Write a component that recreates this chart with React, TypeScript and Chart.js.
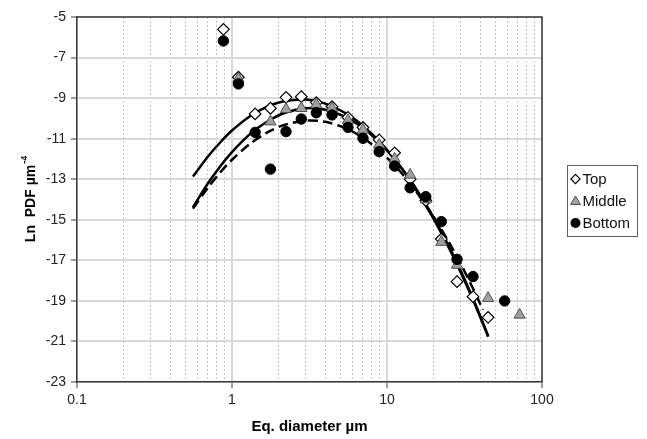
import React, { useEffect, useRef } from "react";
import { Chart, registerables } from "chart.js";

Chart.register(...registerables);

const topDiameter = [0.88, 1.1, 1.41, 1.77, 2.23, 2.8, 3.5, 4.42, 5.6, 7.0, 8.9, 11.2, 14.1, 17.8, 22.4, 28.3, 35.9, 44.9];
const topLnPdf = [-5.61, -7.97, -9.78, -9.5, -8.96, -8.93, -9.22, -9.42, -9.95, -10.45, -11.06, -11.7, -13.0, -14.05, -15.95, -18.05, -18.79, -19.81];

const middleDiameter = [1.1, 1.77, 2.23, 2.8, 3.5, 4.42, 5.6, 7.0, 8.9, 11.2, 14.1, 17.8, 22.4, 28.3, 44.9, 71.7];
const middleLnPdf = [-8.05, -10.16, -9.55, -9.5, -9.32, -9.5, -10.1, -10.57, -11.3, -12.0, -12.79, -14.0, -16.1, -17.23, -18.87, -19.69];

const bottomDiameter = [0.88, 1.1, 1.41, 1.77, 2.23, 2.8, 3.5, 4.42, 5.6, 7.0, 8.9, 11.2, 14.1, 17.8, 22.4, 28.3, 35.9, 57.4];
const bottomLnPdf = [-6.18, -8.3, -10.69, -12.5, -10.65, -10.03, -9.72, -9.83, -10.44, -10.98, -11.64, -12.35, -13.42, -13.86, -15.09, -16.95, -17.8, -19.0];

// ---- fitted curves ----
const fitDiameter = [0.56, 0.7, 0.85, 1, 1.3, 1.7, 2.2, 3, 4, 5.5, 7, 9, 12, 15, 20, 25, 30, 36, 45];
const topFit = [-12.87, -11.88, -11.14, -10.6, -9.91, -9.41, -9.14, -9.07, -9.27, -9.78, -10.37, -11.16, -12.31, -13.37, -14.96, -16.37, -17.62, -18.97, -20.77];
const middleFit = [-14.38, -13.2, -12.31, -11.66, -10.79, -10.14, -9.72, -9.5, -9.57, -9.96, -10.48, -11.21, -12.3, -13.33, -14.89, -16.29, -17.54, -18.91, -20.73];
const bottomFitDiameter = [0.56, 0.7, 0.85, 1, 1.3, 1.7, 2.2, 3, 4, 5.5, 7, 9, 12, 15, 20, 25, 30, 36, 41.6];
const bottomFit = [-14.45, -13.41, -12.62, -12.04, -11.27, -10.68, -10.31, -10.11, -10.17, -10.51, -10.96, -11.61, -12.57, -13.48, -14.86, -16.09, -17.2, -18.41, -19.44];

// ---- axes ----
const xMajorTicks = [0.1, 1, 10, 100];
const xTickLabels = ["0.1", "1", "10", "100"];
const xMinorMultipliers = [2, 3, 4, 5, 6, 7, 8, 9];
const yMin = -23;
const yMax = -5;
const yStep = 2;

const seriesNames = ["Top", "Middle", "Bottom"];
const xTitle = "Eq. diameter µm";
const yTitle = "Ln  PDF µm";
const yTitleSup = "-4";

const FONT = '"Liberation Sans", Arial, sans-serif';

const zip = (xs: number[], ys: number[]) => xs.map((x, i) => ({ x, y: ys[i] }));

const isMajor = (v: number) => Math.abs(Math.log10(v) - Math.round(Math.log10(v))) < 1e-6;

export default function App() {
  const ref = useRef<HTMLCanvasElement>(null);

  useEffect(() => {
    const canvas = ref.current;
    if (!canvas) return;

    const decorPlugin = {
      id: "decor",
      afterDraw(chart: any) {
        const { ctx, chartArea: a } = chart;
        ctx.save();
        // top & right frame
        ctx.strokeStyle = "#3a3a3a";
        ctx.lineWidth = 1.5;
        ctx.beginPath();
        ctx.moveTo(a.left, a.top);
        ctx.lineTo(a.right, a.top);
        ctx.lineTo(a.right, a.bottom);
        ctx.stroke();
        ctx.restore();

        // y title with superscript
        ctx.save();
        ctx.translate(31, (a.top + a.bottom) / 2);
        ctx.rotate(-Math.PI / 2);
        ctx.fillStyle = "#000";
        ctx.textBaseline = "middle";
        ctx.font = `bold 14px ${FONT}`;
        const w1 = ctx.measureText(yTitle).width;
        ctx.font = `bold 9px ${FONT}`;
        const w2 = ctx.measureText(yTitleSup).width;
        const start = -(w1 + w2) / 2;
        ctx.font = `bold 14px ${FONT}`;
        ctx.fillText(yTitle, start, 0);
        ctx.font = `bold 9px ${FONT}`;
        ctx.fillText(yTitleSup, start + w1 + 1, -6);
        ctx.restore();

        // legend
        ctx.save();
        const lx = 567, ly = 165, lw = 70, lh = 71;
        ctx.fillStyle = "#fff";
        ctx.fillRect(lx, ly, lw, lh);
        ctx.strokeStyle = "#606060";
        ctx.lineWidth = 1;
        ctx.strokeRect(lx + 0.5, ly + 0.5, lw, lh);
        const mx = 575.5;
        const rows = [179, 201, 223];
        const s = 4.6;
        // diamond
        ctx.beginPath();
        ctx.moveTo(mx, rows[0] - s);
        ctx.lineTo(mx + s, rows[0]);
        ctx.lineTo(mx, rows[0] + s);
        ctx.lineTo(mx - s, rows[0]);
        ctx.closePath();
        ctx.fillStyle = "#fff";
        ctx.fill();
        ctx.strokeStyle = "#000";
        ctx.lineWidth = 1.2;
        ctx.stroke();
        // triangle
        ctx.beginPath();
        ctx.moveTo(mx, rows[1] - 5);
        ctx.lineTo(mx + 5, rows[1] + 3.5);
        ctx.lineTo(mx - 5, rows[1] + 3.5);
        ctx.closePath();
        ctx.fillStyle = "#a0a0a0";
        ctx.fill();
        ctx.strokeStyle = "#505050";
        ctx.lineWidth = 1;
        ctx.stroke();
        // circle
        ctx.beginPath();
        ctx.arc(mx, rows[2], 5, 0, Math.PI * 2);
        ctx.fillStyle = "#000";
        ctx.fill();
        ctx.fillStyle = "#111";
        ctx.font = `15px ${FONT}`;
        ctx.textBaseline = "middle";
        seriesNames.forEach((n, i) => ctx.fillText(n, 582.5, rows[i] + 1));
        ctx.restore();
      },
    };

    const chart = new Chart(canvas, {
      type: "scatter",
      data: {
        datasets: [
          {
            label: seriesNames[2],
            data: zip(bottomDiameter, bottomLnPdf),
            pointStyle: "circle",
            pointRadius: 5.2,
            backgroundColor: "#000",
            borderColor: "#000",
            borderWidth: 1,
            showLine: false,
            order: 1,
          },
          {
            label: seriesNames[1],
            data: zip(middleDiameter, middleLnPdf),
            pointStyle: "triangle",
            pointRadius: 6.5,
            backgroundColor: "#a0a0a0",
            borderColor: "#505050",
            borderWidth: 1,
            showLine: false,
            order: 2,
          },
          {
            label: seriesNames[0],
            data: zip(topDiameter, topLnPdf),
            pointStyle: "rectRot",
            pointRadius: 5.8,
            backgroundColor: "#fff",
            borderColor: "#000",
            borderWidth: 1.2,
            showLine: false,
            order: 3,
          },
          {
            label: "Top fit",
            data: zip(fitDiameter, topFit),
            showLine: true,
            pointRadius: 0,
            borderColor: "#000",
            borderWidth: 2.5,
            tension: 0.3,
            order: 4,
          },
          {
            label: "Middle fit",
            data: zip(fitDiameter, middleFit),
            showLine: true,
            pointRadius: 0,
            borderColor: "#000",
            borderWidth: 2.5,
            tension: 0.3,
            order: 5,
          },
          {
            label: "Bottom fit",
            data: zip(bottomFitDiameter, bottomFit),
            showLine: true,
            pointRadius: 0,
            borderColor: "#000",
            borderWidth: 2.5,
            borderDash: [10, 5],
            tension: 0.3,
            order: 6,
          },
        ],
      },
      options: {
        responsive: false,
        animation: false,
        devicePixelRatio: 1,
        layout: { padding: { left: 0, right: 105, top: 17, bottom: 0 } },
        plugins: {
          legend: { display: false },
          tooltip: { enabled: false },
        },
        scales: {
          x: {
            type: "logarithmic",
            min: 0.1,
            max: 100,
            afterBuildTicks: (scale: any) => {
              const vals: number[] = [];
              xMajorTicks.forEach((m, i) => {
                vals.push(m);
                if (i < xMajorTicks.length - 1) xMinorMultipliers.forEach((k) => vals.push(m * k));
              });
              scale.ticks = vals.map((v) => ({ value: v, major: isMajor(v) }));
            },
            afterFit: (scale: any) => {
              scale.height = 57;
            },
            ticks: {
              autoSkip: false,
              maxRotation: 0,
              padding: 4,
              color: "#222",
              font: { family: FONT, size: 14 },
              callback: (v: any) => {
                const idx = xMajorTicks.findIndex((m) => Math.abs(m - Number(v)) < 1e-9);
                return idx >= 0 ? xTickLabels[idx] : "";
              },
            },
            grid: {
              color: (c: any) => (c.tick && isMajor(c.tick.value) ? "#d9d9d9" : "#c4c4c4"),
              lineWidth: (c: any) => (c.tick && isMajor(c.tick.value) ? 2 : 1),
              tickColor: (c: any) => (c.tick && isMajor(c.tick.value) ? "#3a3a3a" : "rgba(0,0,0,0)"),
              tickWidth: 1,
              tickLength: 6,
              drawTicks: true,
            },
            border: {
              display: true,
              color: "#3a3a3a",
              width: 1.5,
              dash: (c: any) => (c.tick && !isMajor(c.tick.value) ? [2, 2] : []),
            },
            title: {
              display: true,
              text: xTitle,
              color: "#000",
              font: { family: FONT, size: 15, weight: "bold" },
              padding: { top: 0, bottom: 3 },
            },
          },
          y: {
            type: "linear",
            min: yMin,
            max: yMax,
            afterFit: (scale: any) => {
              scale.width = 77;
            },
            ticks: {
              stepSize: yStep,
              padding: 5,
              color: "#222",
              font: { family: FONT, size: 14 },
            },
            grid: {
              color: "#d9d9d9",
              lineWidth: 2,
              tickColor: "#3a3a3a",
              tickWidth: 1,
              tickLength: 6,
            },
            border: { display: true, color: "#3a3a3a", width: 1.5 },
          },
        },
      },
      plugins: [decorPlugin],
    } as any);

    return () => chart.destroy();
  }, []);

  return (
    <div style={{ position: "absolute", left: 0, top: 0, width: 647, height: 439, background: "#fff" }}>
      <canvas ref={ref} width={647} height={439} />
    </div>
  );
}
